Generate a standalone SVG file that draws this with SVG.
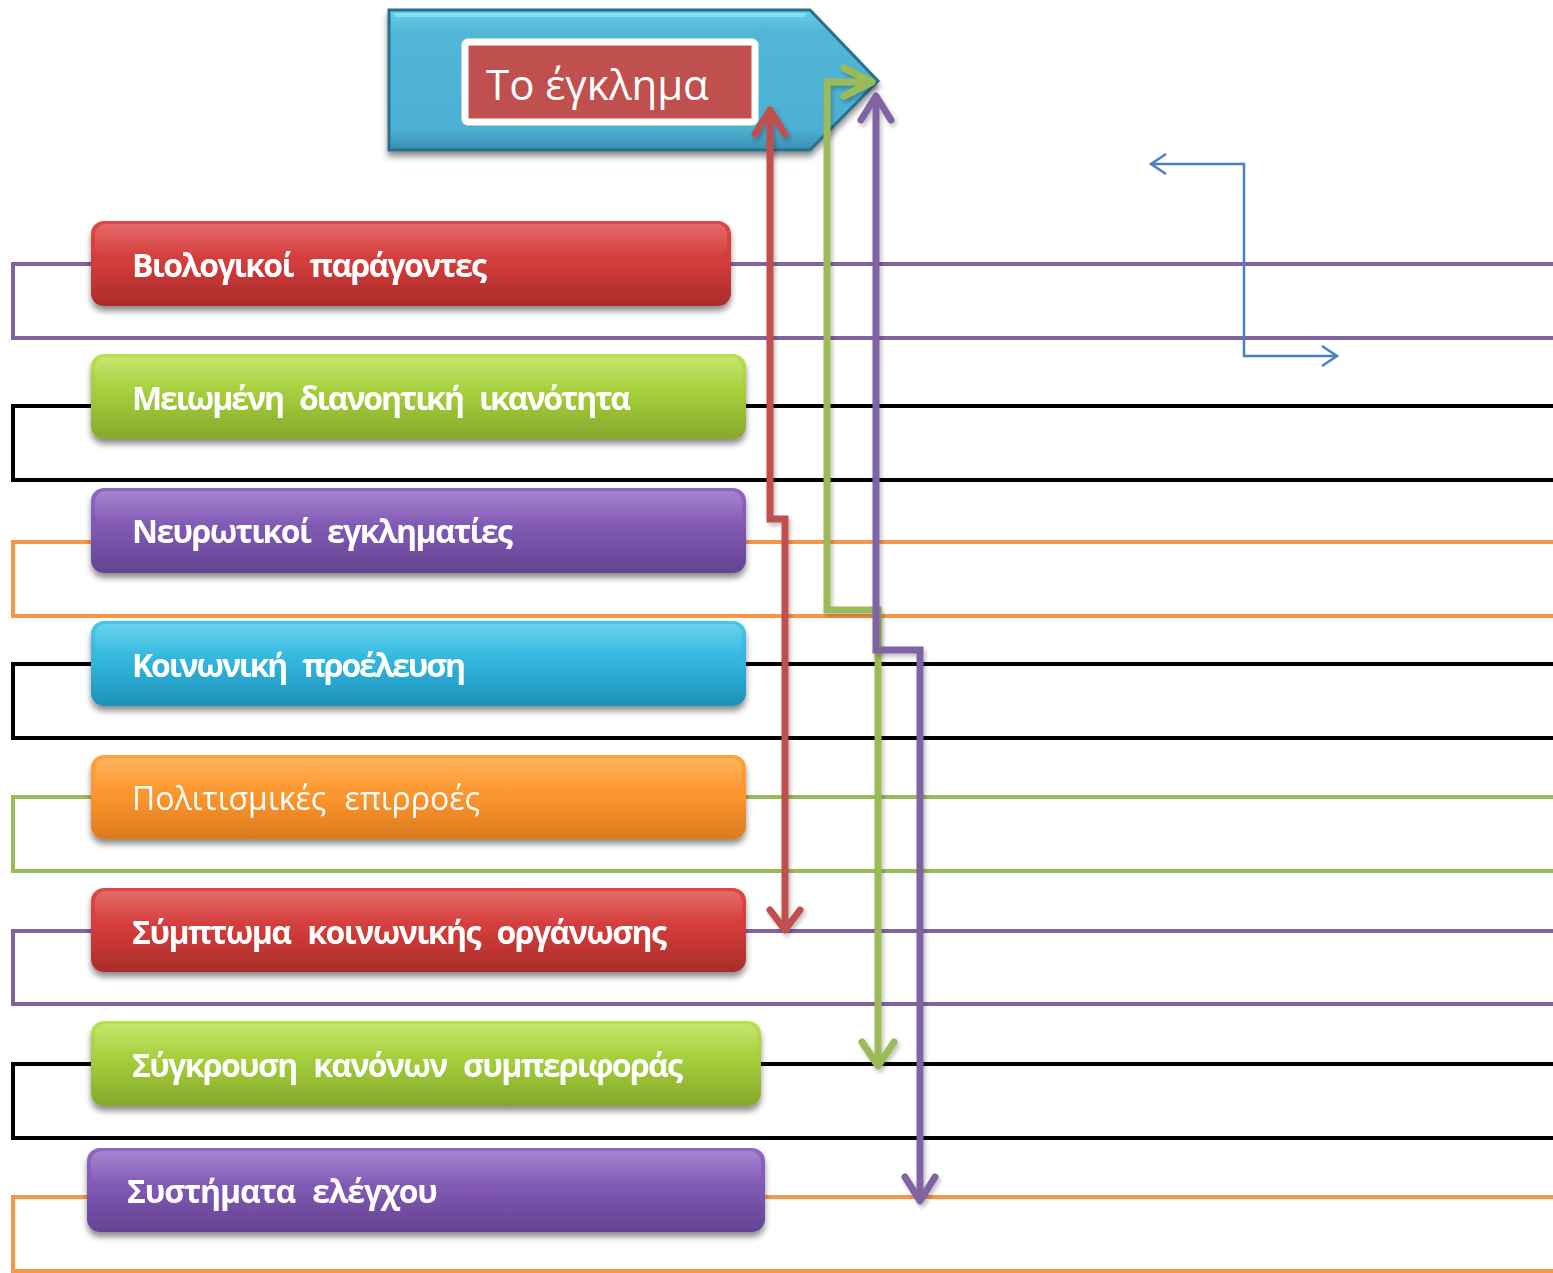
<svg xmlns="http://www.w3.org/2000/svg" width="1553" height="1273" viewBox="0 0 1553 1273">
<style>
.lbl{font-family:"Open Sans","DejaVu Sans",sans-serif;font-weight:bold;font-size:32px;fill:#fff;word-spacing:10px}
.lbln{font-weight:normal}
.br{fill:none;stroke-width:4}
.hd{fill:none;stroke-width:7;stroke-linecap:round;stroke-linejoin:round}
.blue{fill:none;stroke:#4a7fc1;stroke-width:2.5}
.box{filter:url(#sh)}
.gl{fill:url(#gloss)}
</style>
<defs>
<filter id="sh" x="-5%" y="-20%" width="110%" height="150%">
<feGaussianBlur in="SourceAlpha" stdDeviation="3"/>
<feOffset dx="0" dy="5"/>
<feComponentTransfer><feFuncA type="linear" slope="0.45"/></feComponentTransfer>
<feMerge><feMergeNode/><feMergeNode in="SourceGraphic"/></feMerge>
</filter>
<filter id="ash" x="-50%" y="-5%" width="200%" height="110%">
<feGaussianBlur in="SourceAlpha" stdDeviation="2"/>
<feOffset dx="2" dy="3"/>
<feComponentTransfer><feFuncA type="linear" slope="0.25"/></feComponentTransfer>
<feMerge><feMergeNode/><feMergeNode in="SourceGraphic"/></feMerge>
</filter>
<linearGradient id="gR" x1="0" y1="0" x2="0" y2="1"><stop offset="0" stop-color="#e04646"/><stop offset="0.5" stop-color="#d23c3a"/><stop offset="1" stop-color="#a82c2a"/></linearGradient>
<linearGradient id="gG" x1="0" y1="0" x2="0" y2="1"><stop offset="0" stop-color="#b8e04a"/><stop offset="0.5" stop-color="#a2cc3a"/><stop offset="1" stop-color="#86a82c"/></linearGradient>
<linearGradient id="gP" x1="0" y1="0" x2="0" y2="1"><stop offset="0" stop-color="#9066c4"/><stop offset="0.5" stop-color="#7e58b2"/><stop offset="1" stop-color="#634490"/></linearGradient>
<linearGradient id="gB" x1="0" y1="0" x2="0" y2="1"><stop offset="0" stop-color="#44c8ec"/><stop offset="0.5" stop-color="#30b4dc"/><stop offset="1" stop-color="#1f90b8"/></linearGradient>
<linearGradient id="gO" x1="0" y1="0" x2="0" y2="1"><stop offset="0" stop-color="#ffa236"/><stop offset="0.5" stop-color="#fb952e"/><stop offset="1" stop-color="#dc7a1e"/></linearGradient>
<linearGradient id="gloss" x1="0" y1="0" x2="0" y2="1"><stop offset="0" stop-color="#fff" stop-opacity="0.2"/><stop offset="1" stop-color="#fff" stop-opacity="0"/></linearGradient>
<linearGradient id="gT" x1="0" y1="0" x2="0" y2="1"><stop offset="0" stop-color="#66d0ec"/><stop offset="0.15" stop-color="#52b6d6"/><stop offset="0.85" stop-color="#4cb0d2"/><stop offset="1" stop-color="#3a8fb0"/></linearGradient>
</defs>

<g id="connectors">
<path class="br" stroke="#8064a2" d="M91,264 H13 V338 H1553 M731,264 H1553"/>
<path class="br" stroke="#000" d="M91,406 H13 V480 H1553 M746,406 H1553"/>
<path class="br" stroke="#f79646" d="M91,542 H13 V616 H1553 M746,542 H1553"/>
<path class="br" stroke="#000" d="M91,664 H13 V738 H1553 M746,664 H1553"/>
<path class="br" stroke="#9bbb59" d="M91,797 H13 V871 H1553 M746,797 H1553"/>
<path class="br" stroke="#8064a2" d="M91,931 H13 V1004 H1553 M746,931 H1553"/>
<path class="br" stroke="#000" d="M91,1064 H13 V1138 H1553 M761,1064 H1553"/>
<path class="br" stroke="#f79646" d="M87,1197 H13 V1271 H1553 M765,1197 H1553"/>
<path class="blue" d="M1152,164 H1244 V356 H1337"/>
<path class="blue" d="M1166,154 L1151,164 L1166,174 M1322,346 L1337,356 L1322,366"/>
</g>

<g id="node-crime">
<path d="M389,10 H810 L878,81 L810,150 H389 Z" fill="url(#gT)" stroke="#2c6f8c" stroke-width="3" filter="url(#sh)"/>
<path d="M394,15 H806" stroke="#8ee8fb" stroke-width="4" opacity="0.7"/>
<rect x="465" y="42" width="290" height="80" rx="3" fill="#c0504d" stroke="#fff" stroke-width="7"/>
<text x="486" y="100" font-family="'Open Sans','DejaVu Sans',sans-serif" font-size="42" fill="#fff">Το έγκλημα</text>
</g>

<g id="node-1" class="box"><rect x="91" y="221" width="640" height="85" rx="13" fill="url(#gR)"/><rect x="95" y="224" width="632" height="34" rx="11" class="gl"/><text class="lbl" x="132" y="277" textLength="355" lengthAdjust="spacing">Βιολογικοί παράγοντες</text></g>
<g id="node-2" class="box"><rect x="91" y="354" width="655" height="85" rx="13" fill="url(#gG)"/><rect x="95" y="357" width="647" height="34" rx="11" class="gl"/><text class="lbl" x="132" y="410" textLength="499" lengthAdjust="spacing">Μειωμένη διανοητική ικανότητα</text></g>
<g id="node-3" class="box"><rect x="91" y="488" width="655" height="85" rx="13" fill="url(#gP)"/><rect x="95" y="491" width="647" height="34" rx="11" class="gl"/><text class="lbl" x="132" y="543" textLength="381" lengthAdjust="spacing">Νευρωτικοί εγκληματίες</text></g>
<g id="node-4" class="box"><rect x="91" y="621" width="655" height="85" rx="13" fill="url(#gB)"/><rect x="95" y="624" width="647" height="34" rx="11" class="gl"/><text class="lbl" x="132" y="677" textLength="334" lengthAdjust="spacing">Κοινωνική προέλευση</text></g>
<g id="node-5" class="box"><rect x="91" y="755" width="655" height="84" rx="13" fill="url(#gO)"/><rect x="95" y="758" width="647" height="34" rx="11" class="gl"/><text class="lbl lbln" x="132" y="810" textLength="348" lengthAdjust="spacing">Πολιτισμικές επιρροές</text></g>
<g id="node-6" class="box"><rect x="91" y="888" width="655" height="84" rx="13" fill="url(#gR)"/><rect x="95" y="891" width="647" height="34" rx="11" class="gl"/><text class="lbl" x="132" y="944" textLength="535" lengthAdjust="spacing">Σύμπτωμα κοινωνικής οργάνωσης</text></g>
<g id="node-7" class="box"><rect x="91" y="1021" width="670" height="85" rx="13" fill="url(#gG)"/><rect x="95" y="1024" width="662" height="34" rx="11" class="gl"/><text class="lbl" x="132" y="1077" textLength="551" lengthAdjust="spacing">Σύγκρουση κανόνων συμπεριφοράς</text></g>
<g id="node-8" class="box"><rect x="87" y="1148" width="678" height="84" rx="13" fill="url(#gP)"/><rect x="91" y="1151" width="670" height="34" rx="11" class="gl"/><text class="lbl" x="127" y="1203" textLength="311" lengthAdjust="spacing">Συστήματα ελέγχου</text></g>

<g id="arrows">
<g filter="url(#ash)">
<path d="M770,112 V519 H785 V928" fill="none" stroke="#c0504d" stroke-width="7"/>
<path class="hd" stroke="#c0504d" d="M755,134 L770,110 L785,134 M770,110 V125 M770,910 L785,930 L800,910"/>
</g>
<g filter="url(#ash)">
<path d="M870,82 H827 V610 H878 V1064" fill="none" stroke="#9bbb59" stroke-width="7"/>
<path class="hd" stroke="#9bbb59" d="M844,68 L872,82 L844,96 M862,1042 L878,1066 L894,1042"/>
</g>
<g filter="url(#ash)">
<path d="M876,100 V650 H920 V1198" fill="none" stroke="#8064a2" stroke-width="7"/>
<path class="hd" stroke="#8064a2" d="M861,120 L876,96 L891,120 M905,1177 L920,1201 L935,1177"/>
</g>
</g>
</svg>
